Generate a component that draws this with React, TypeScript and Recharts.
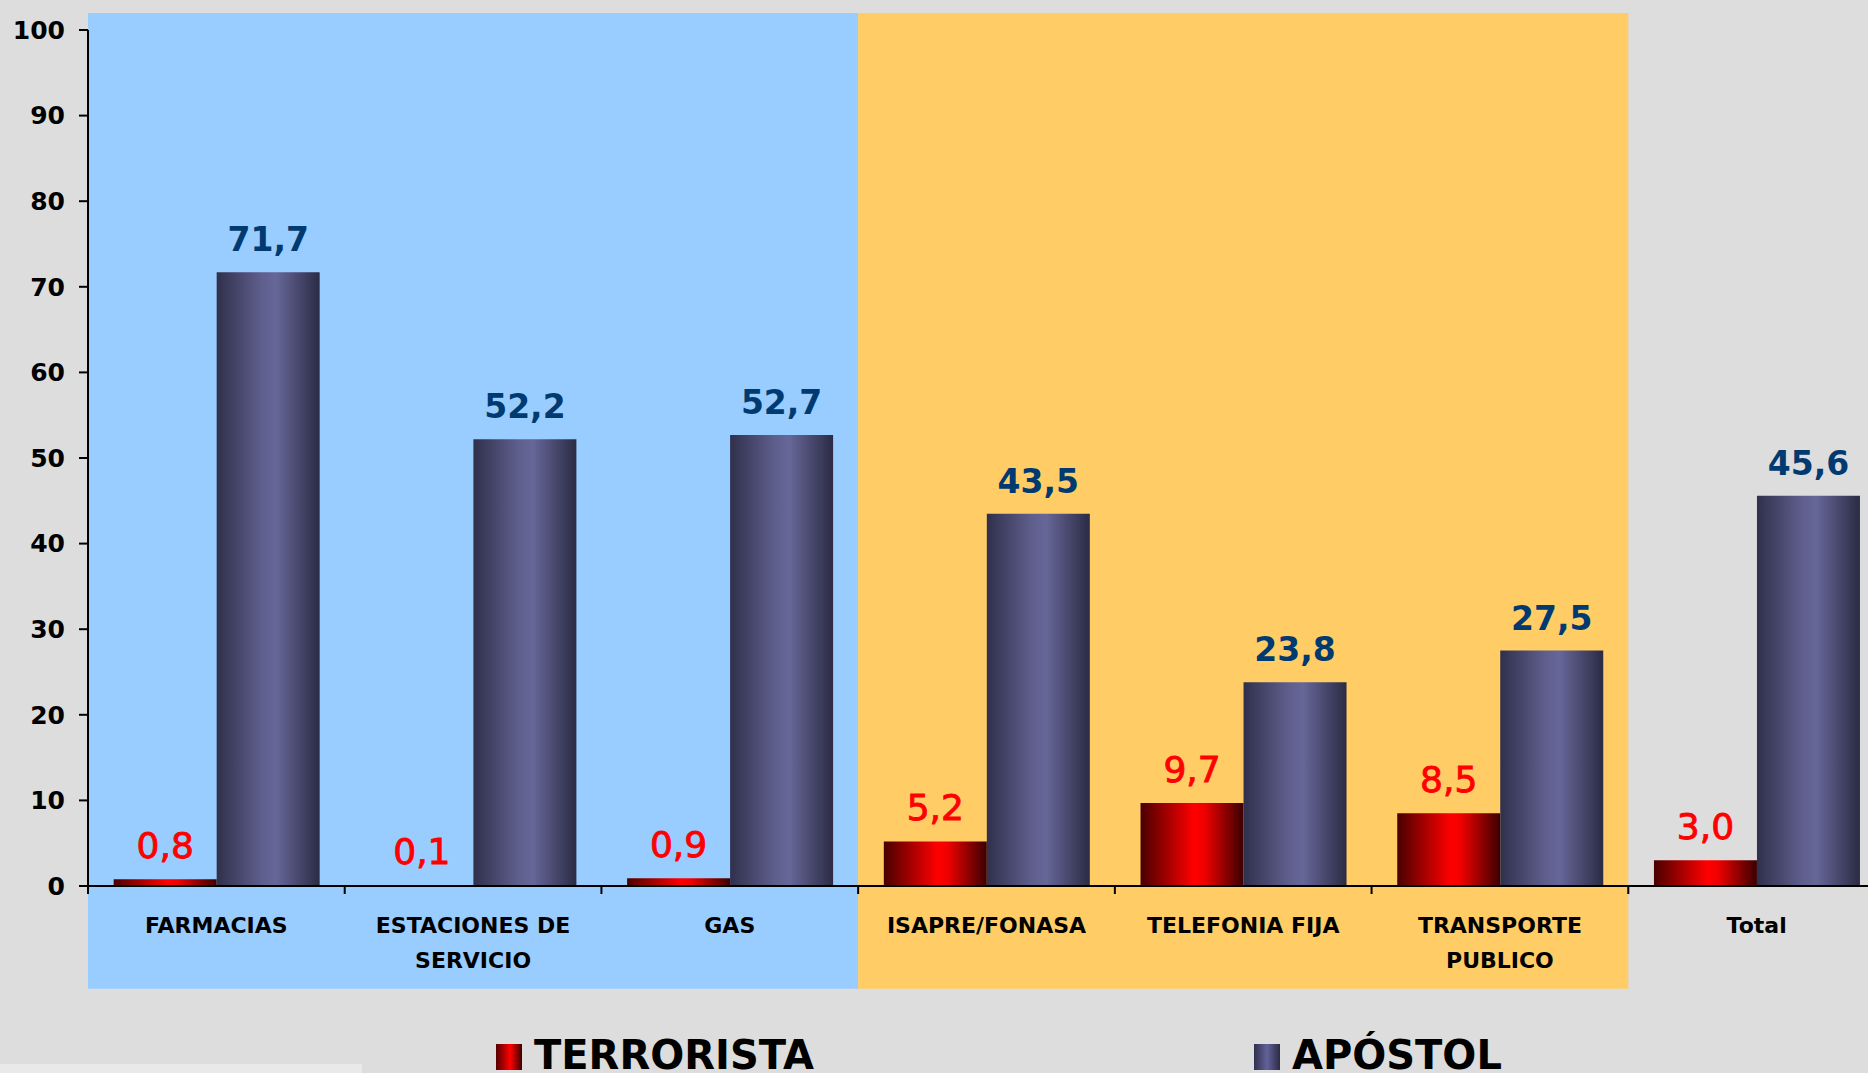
import React from "react";
import { BarChart, Bar, XAxis, YAxis, ReferenceArea, LabelList } from "recharts";

const categories = [
  "FARMACIAS",
  "ESTACIONES DE\nSERVICIO",
  "GAS",
  "ISAPRE/FONASA",
  "TELEFONIA FIJA",
  "TRANSPORTE\nPUBLICO",
  "Total",
];
const terrorista = [0.8, 0.1, 0.9, 5.2, 9.7, 8.5, 3.0];
const apostol = [71.7, 52.2, 52.7, 43.5, 23.8, 27.5, 45.6];
const yTicks = [0, 10, 20, 30, 40, 50, 60, 70, 80, 90, 100];

// panels behind the groups (blue: first three, orange: next three)
const bluePanel = [categories[0], categories[2]];
const orangePanel = [categories[3], categories[5]];
const PANEL_TOP = 102;
const PANEL_BOTTOM = -12;

const series = [
  {
    key: "terrorista",
    name: "TERRORISTA",
    fill: "url(#gradRed)",
    css: "linear-gradient(90deg,#550000,#ff0000 55%,#3a0000)",
    labelColor: "#ff0000",
    labelWeight: "normal",
    labelSize: 36,
    labelStroke: 0.9,
  },
  {
    key: "apostol",
    name: "APÓSTOL",
    fill: "url(#gradPurple)",
    css: "linear-gradient(90deg,#30304c,#62629a 50%,#2b2b44)",
    labelColor: "#003a70",
    labelWeight: "bold",
    labelSize: 33,
    labelStroke: 0,
  },
];

const data = categories.map((name, i) => ({
  name,
  terrorista: terrorista[i],
  apostol: apostol[i],
}));

const FONT = "'DejaVu Sans', Verdana, sans-serif";

const fmt = (v: any) => Number(v).toFixed(1).replace(".", ",");

function CategoryTick(props: any) {
  const { x, y, payload } = props;
  const lines = String(payload.value).split("\n");
  const half = payload.offset ?? 0;
  return (
    <g>
      <line x1={x - half} y1={y} x2={x - half} y2={y + 8} stroke="#000" strokeWidth={2} />
      <text x={x} y={y + 47} textAnchor="middle" fontSize={22} fontWeight="bold" fill="#000" fontFamily={FONT}>
        {lines.map((l, i) => (
          <tspan key={i} x={x} dy={i === 0 ? 0 : 35}>
            {l}
          </tspan>
        ))}
      </text>
    </g>
  );
}

export default function App() {
  return (
    <div
      style={{
        position: "absolute",
        left: 0,
        top: 0,
        width: 1868,
        height: 1073,
        overflow: "hidden",
        background: "#dddddd",
        fontFamily: FONT,
      }}
    >
      <BarChart
        width={1900}
        height={1073}
        data={data}
        margin={{ top: 30, right: 15, bottom: 0, left: 0 }}
        barCategoryGap="10%"
        barGap={0}
      >
        <defs>
          <linearGradient id="gradRed" x1="0" y1="0" x2="1" y2="0">
            <stop offset="0%" stopColor="#4a0000" />
            <stop offset="52%" stopColor="#ff0000" />
            <stop offset="62%" stopColor="#f00000" />
            <stop offset="100%" stopColor="#3a0000" />
          </linearGradient>
          <linearGradient id="gradPurple" x1="0" y1="0" x2="1" y2="0">
            <stop offset="0%" stopColor="#30304c" />
            <stop offset="45%" stopColor="#60608f" />
            <stop offset="58%" stopColor="#666698" />
            <stop offset="100%" stopColor="#2b2b44" />
          </linearGradient>
        </defs>
        <ReferenceArea
          x1={bluePanel[0]}
          x2={bluePanel[1]}
          y1={PANEL_BOTTOM}
          y2={PANEL_TOP}
          fill="#99ccff"
          fillOpacity={1}
          stroke="none"
          ifOverflow="visible"
        />
        <ReferenceArea
          x1={orangePanel[0]}
          x2={orangePanel[1]}
          y1={PANEL_BOTTOM}
          y2={PANEL_TOP}
          fill="#ffcc66"
          fillOpacity={1}
          stroke="none"
          ifOverflow="visible"
        />
        <XAxis
          dataKey="name"
          height={187}
          interval={0}
          tickLine={false}
          tickSize={0}
          tickMargin={0}
          axisLine={{ stroke: "#000", strokeWidth: 2 }}
          tick={<CategoryTick />}
        />
        <YAxis
          width={88}
          domain={[0, 100]}
          ticks={yTicks}
          interval={0}
          tickSize={9}
          tickMargin={14}
          axisLine={{ stroke: "#000", strokeWidth: 2 }}
          tickLine={{ stroke: "#000", strokeWidth: 2 }}
          tick={{ fontSize: 25, fontWeight: "bold", fill: "#000", fontFamily: FONT }}
        />
        {series.map((s) => (
          <Bar key={s.key} dataKey={s.key} name={s.name} fill={s.fill} isAnimationActive={false}>
            <LabelList
              dataKey={s.key}
              position="top"
              offset={21}
              formatter={fmt}
              fill={s.labelColor}
              stroke={s.labelStroke ? s.labelColor : "none"}
              strokeWidth={s.labelStroke}
              fontSize={s.labelSize}
              fontWeight={s.labelWeight}
              fontFamily={FONT}
            />
          </Bar>
        ))}
      </BarChart>

      {/* legend */}
      {series.map((s, i) => (
        <div
          key={s.key}
          style={{
            position: "absolute",
            left: i === 0 ? 496 : 1254,
            top: 1035,
            display: "flex",
            alignItems: "flex-start",
            whiteSpace: "nowrap",
          }}
        >
          <div style={{ width: 26, height: 26, marginTop: 9, background: s.css }} />
          <div style={{ marginLeft: 12, fontSize: 40, fontWeight: "bold", lineHeight: "40px", color: "#000" }}>
            {s.name}
          </div>
        </div>
      ))}

      {/* logo strip bottom-left */}
      <div style={{ position: "absolute", left: 0, top: 1064, width: 362, height: 9, background: "#e9e9e9" }} />
    </div>
  );
}
